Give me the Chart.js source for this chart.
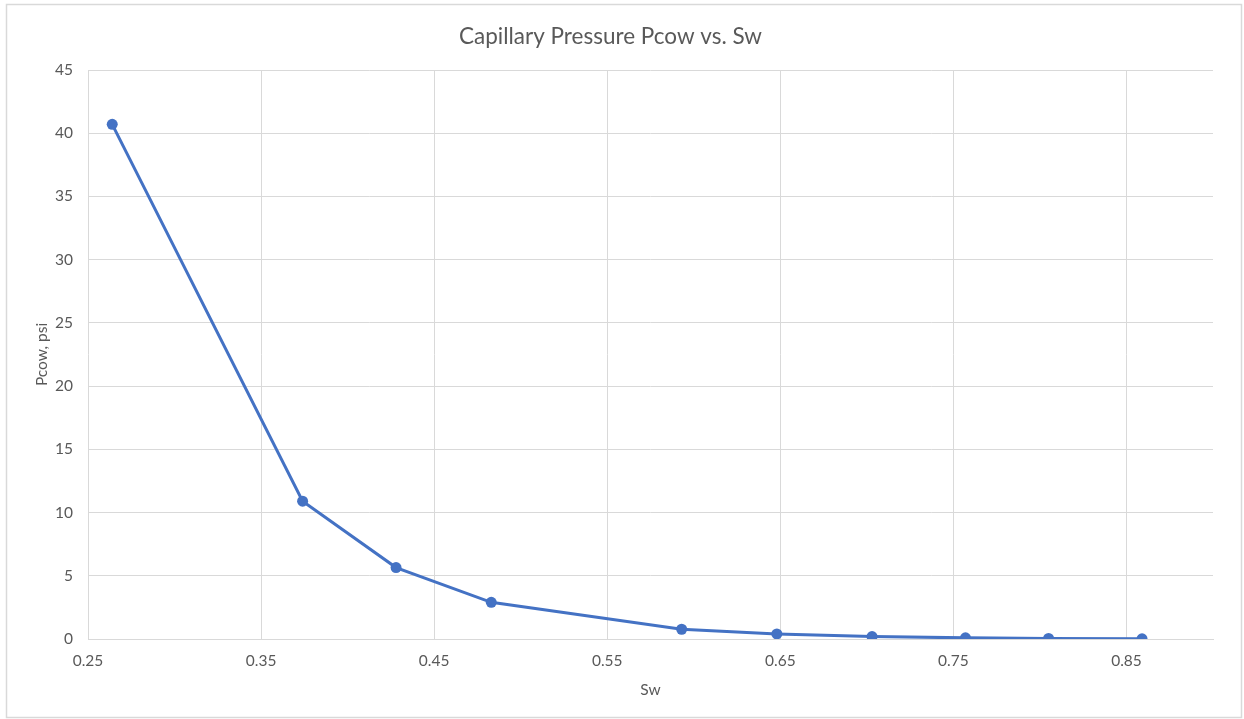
<!DOCTYPE html>
<html>
<head>
<meta charset="utf-8">
<title>Capillary Pressure Pcow vs. Sw</title>
<script src="https://cdn.jsdelivr.net/npm/chart.js@4/dist/chart.umd.min.js"></script>
<style>
  html, body { margin: 0; padding: 0; background: #ffffff; }
  #wrap { position: relative; width: 1244px; height: 719px; }
  canvas { display: block; }
</style>
</head>
<body>
<div id="wrap"><canvas id="chart" width="1244" height="719"></canvas></div>
<script>
// Water saturation (fraction) and oil-water capillary pressure (psi)
const sw = [0.264, 0.374, 0.428, 0.483, 0.593, 0.648, 0.703, 0.757, 0.805, 0.859];
const pcow = [40.7, 10.9, 5.65, 2.9, 0.77, 0.4, 0.19, 0.09, 0.04, 0.01];
const xTicks = [0.25, 0.35, 0.45, 0.55, 0.65, 0.75, 0.85];
const yTicks = [0, 5, 10, 15, 20, 25, 30, 35, 40, 45];

const FONT = "Lato, 'Open Sans', 'Liberation Sans', sans-serif";
const TEXT = '#595959';
const GRID = '#d9d9d9';
const LINE = '#4472c4';

// light frame around the whole chart
const framePlugin = {
  id: 'frame',
  beforeDraw(chart) {
    const ctx = chart.ctx;
    ctx.save();
    ctx.fillStyle = '#ffffff';
    ctx.fillRect(0, 0, chart.width, chart.height);
    ctx.strokeStyle = GRID;
    ctx.lineWidth = 1.5;
    ctx.strokeRect(6.5, 4.5, 1235, 713);
    ctx.restore();
  }
};

const points = sw.map((x, i) => ({ x: x, y: pcow[i] }));

new Chart(document.getElementById('chart'), {
  type: 'line',
  data: {
    datasets: [{
      label: 'Pcow',
      data: points,
      borderColor: LINE,
      backgroundColor: LINE,
      borderWidth: 3,
      pointRadius: 5.5,
      pointHoverRadius: 5.5,
      pointBorderWidth: 0,
      tension: 0
    }]
  },
  options: {
    responsive: false,
    animation: false,
    layout: { padding: { left: 8, right: 31, top: 5, bottom: 0 } },
    plugins: {
      legend: { display: false },
      tooltip: { enabled: false },
      title: {
        display: true,
        text: 'Capillary Pressure Pcow vs. Sw',
        color: TEXT,
        font: { family: FONT, size: 22.5, weight: 'normal' },
        padding: { top: 18, bottom: 20 }
      }
    },
    scales: {
      x: {
        type: 'linear',
        min: 0.25,
        max: 0.9,
        afterBuildTicks(scale) { scale.ticks = xTicks.map(v => ({ value: v })); },
        afterFit(scale) { scale.height = 80; },
        ticks: {
          color: TEXT,
          font: { family: FONT, size: 15.5 },
          padding: 13,
          maxRotation: 0,
          callback: v => v.toFixed(2)
        },
        grid: { color: GRID, lineWidth: 1, drawTicks: false },
        border: { display: true, color: GRID, width: 1 },
        title: {
          display: true,
          text: 'Sw',
          color: TEXT,
          font: { family: FONT, size: 15.5 },
          padding: { top: 0, bottom: 20 }
        }
      },
      y: {
        type: 'linear',
        min: 0,
        max: 45,
        afterBuildTicks(scale) { scale.ticks = yTicks.map(v => ({ value: v })); },
        afterFit(scale) { scale.width = 80; },
        ticks: {
          color: TEXT,
          font: { family: FONT, size: 15.5 },
          padding: 15
        },
        grid: { color: GRID, lineWidth: 1, drawTicks: false },
        border: { display: false },
        title: {
          display: true,
          text: 'Pcow, psi',
          color: TEXT,
          font: { family: FONT, size: 15.5 },
          padding: { top: 25, bottom: 0 }
        }
      }
    }
  },
  plugins: [framePlugin]
});
</script>
</body>
</html>
